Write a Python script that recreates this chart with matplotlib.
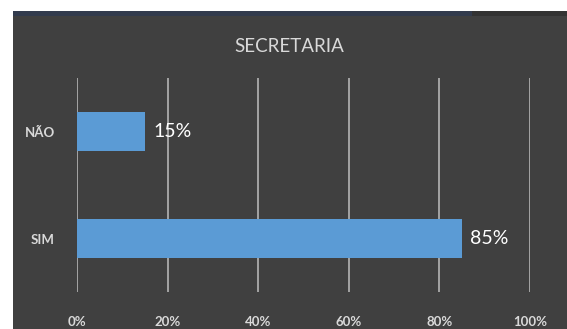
import matplotlib.pyplot as plt
from matplotlib.patches import Rectangle
from matplotlib.ticker import PercentFormatter

# respostas
categorias = ["SIM", "NÃO"]
valores = [85, 15]
ticks_x = [0, 20, 40, 60, 80, 100]

fundo = "#404040"
azul = "#5B9BD5"
texto = "#D9D9D9"

plt.rcParams['font.family'] = ['Lato', 'DejaVu Sans']

fig = plt.figure(figsize=(5.67, 3.29), dpi=100)
fig.patch.set_facecolor("white")

# painel escuro e a faixa no topo
fig.add_artist(Rectangle((13 / 567, 0), 1, 1 - 11 / 329, transform=fig.transFigure,
                         facecolor=fundo, edgecolor="none", zorder=0))
fig.add_artist(Rectangle((13 / 567, 1 - 16 / 329), (472 - 13) / 567, 5 / 329,
                         transform=fig.transFigure, facecolor="#323B4D",
                         edgecolor="none", zorder=1))
fig.add_artist(Rectangle((472 / 567, 1 - 16 / 329), 1, 5 / 329,
                         transform=fig.transFigure, facecolor="#333333",
                         edgecolor="none", zorder=1))

ax = fig.add_axes([77 / 567, 1 - 292 / 329, 453 / 567, 214 / 329])
ax.set_facecolor(fundo)

barras = ax.barh(categorias, valores, height=0.36, color=azul, zorder=3)
for b, v in zip(barras, valores):
    ax.text(b.get_width() + 1.8, b.get_y() + b.get_height() / 2, f"{v}%",
            va="center", ha="left", color="white", fontsize=14, zorder=4)

ax.set_xlim(0, 100)
ax.set_ylim(-0.5, 1.5)
ax.set_xticks(ticks_x)
ax.xaxis.set_major_formatter(PercentFormatter(decimals=0))
ax.grid(axis="x", color="#BFBFBF", linewidth=1.1, zorder=1)
ax.tick_params(length=0, colors=texto, labelsize=9.5)
ax.tick_params(axis="x", pad=17)
ax.tick_params(axis="y", pad=16)
for lbl in ax.get_xticklabels() + ax.get_yticklabels():
    lbl.set_fontweight("bold")
for s in ax.spines.values():
    s.set_visible(False)

fig.text(0.5 + 6 / 567, 1 - 47 / 329, "SECRETARIA", ha="center", va="center",
         color=texto, fontsize=13.5)

fig.savefig("out.png", dpi=100, facecolor=fig.get_facecolor())
